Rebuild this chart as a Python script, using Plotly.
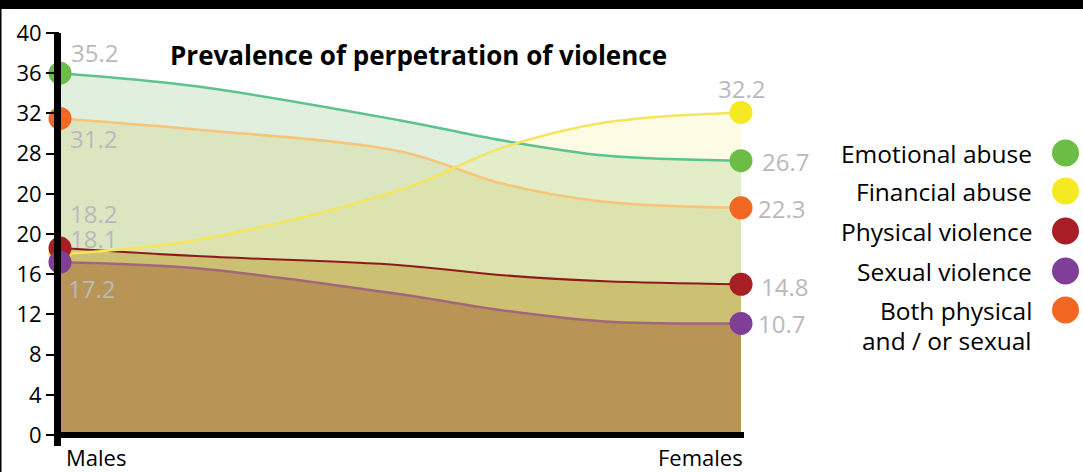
import plotly.graph_objects as go

# ---------------- data ----------------
categories = ["Males", "Females"]
# horizontal positions (0 = Males, 1 = Females) at which the drawn curves were read
x_points = [0.0, 0.2, 0.5, 0.65, 0.8, 1.0]

# heights
emotional = [36.0, 34.7, 31.3, 29.3, 27.8, 27.3]
financial = [18.0, 19.4, 24.4, 28.6, 31.1, 32.1]
both_phys_sex = [31.5, 30.4, 28.2, 25.0, 23.2, 22.6]
physical = [18.6, 17.8, 16.9, 15.9, 15.3, 15.0]
sexual = [17.2, 16.6, 14.0, 12.4, 11.3, 11.1]

# value labels printed next to the end points (Males, Females)
emotional_labels = ["35.2", "26.7"]
financial_labels = ["18.2", "32.2"]
both_labels = ["31.2", "22.3"]
physical_labels = ["18.1", "14.8"]
sexual_labels = ["17.2", "10.7"]

y_tickvals = [0, 4, 8, 12, 16, 20, 24, 28, 32, 36, 40]
y_ticktext = ["0", "4", "8", "12", "16", "20", "20", "28", "32", "36", "40"]

legend_names = ["Emotional abuse", "Financial abuse", "Physical violence",
                "Sexual violence", "Both physical", "and / or sexual"]

# ---------------- styling ----------------
W, H = 1083, 472
L, R, T, B = 60, W - 741, 33, H - 435
PW, PH = W - L - R, H - T - B

def px(xp):
    return (xp - L) / PW

def py(yp):
    return (H - B - yp) / PH

FONT = "Open Sans"
col_marker = {"Emotional abuse": "#6cbd45", "Financial abuse": "#f5e922",
              "Both physical and / or sexual": "#f26722", "Physical violence": "#a81e24",
              "Sexual violence": "#7f3f98"}
col_line = {"Emotional abuse": "#5cc28e", "Financial abuse": "#f3e65c",
            "Both physical and / or sexual": "#f7c578", "Physical violence": "#8e1b1b",
            "Sexual violence": "#a3677a"}
col_fill = {"Emotional abuse": "rgba(105,175,95,0.2)", "Financial abuse": "rgba(242,228,75,0.15)",
            "Both physical and / or sexual": "rgba(194,190,70,0.2)",
            "Physical violence": "rgba(179,139,28,0.4)", "Sexual violence": "rgba(140,50,22,0.3)"}

data = {"Emotional abuse": emotional, "Financial abuse": financial,
        "Both physical and / or sexual": both_phys_sex, "Physical violence": physical,
        "Sexual violence": sexual}
labels = {"Emotional abuse": emotional_labels, "Financial abuse": financial_labels,
          "Both physical and / or sexual": both_labels, "Physical violence": physical_labels,
          "Sexual violence": sexual_labels}

fig = go.Figure()

# fills
for name in ["Emotional abuse", "Financial abuse", "Both physical and / or sexual",
             "Physical violence", "Sexual violence"]:
    fig.add_trace(go.Scatter(x=x_points, y=data[name], mode="lines", fill="tozeroy",
                             fillcolor=col_fill[name],
                             line=dict(width=0, shape="spline", smoothing=1.0),
                             showlegend=False, hoverinfo="skip"))
# lines
for name in ["Emotional abuse", "Both physical and / or sexual", "Sexual violence",
             "Physical violence", "Financial abuse"]:
    fig.add_trace(go.Scatter(x=x_points, y=data[name], mode="lines",
                             line=dict(width=2.5 if name != "Physical violence" else 2,
                                       color=col_line[name], shape="spline", smoothing=1.0),
                             showlegend=False, hoverinfo="skip"))
# end markers
for name in ["Emotional abuse", "Both physical and / or sexual", "Financial abuse",
             "Physical violence", "Sexual violence"]:
    fig.add_trace(go.Scatter(x=[x_points[0], x_points[-1]], y=[data[name][0], data[name][-1]],
                             mode="markers", marker=dict(size=23, color=col_marker[name]),
                             cliponaxis=False, showlegend=False, name=name, hoverinfo="skip"))

# value label offsets (px)
offsets = {
    "Emotional abuse": [(34, 21), (44, -1)],
    "Financial abuse": [(33, 41), (0, 24)],
    "Both physical and / or sexual": [(33, -20), (40, -1)],
    "Physical violence": [(33, 10), (43, -2)],
    "Sexual violence": [(31, -26), (40, 0)],
}
annotations = []
for name, offs in offsets.items():
    for i, (dx, dy) in enumerate(offs):
        xi = 0 if i == 0 else -1
        annotations.append(dict(x=x_points[xi], y=data[name][xi], xref="x", yref="y",
                                text=labels[name][i], showarrow=False, xshift=dx, yshift=dy,
                                font=dict(family=FONT, size=24, color="#b9b9bd")))

# category labels
annotations.append(dict(x=x_points[0], y=0, xref="x", yref="y", text=categories[0],
                        showarrow=False, xanchor="left", yanchor="middle", xshift=4, yshift=-22,
                        font=dict(family=FONT, size=22, color="black")))
annotations.append(dict(x=x_points[-1], y=0, xref="x", yref="y", text=categories[1],
                        showarrow=False, xanchor="right", yanchor="middle", xshift=4, yshift=-22,
                        font=dict(family=FONT, size=22, color="black")))

# title
annotations.append(dict(x=px(418), y=py(55), xref="paper", yref="paper",
                        text="<b>Prevalence of perpetration of violence</b>", showarrow=False,
                        xanchor="center", yanchor="middle",
                        font=dict(family=FONT, size=26, color="black")))

# legend
legend_y = [153, 191, 231, 271, 310, 340]
legend_colors = ["#6cbd45", "#f5e922", "#a81e24", "#7f3f98", "#f26722", None]
shapes = []
for txt, yy, c in zip(legend_names, legend_y, legend_colors):
    annotations.append(dict(x=px(1034), y=py(yy), xref="paper", yref="paper", text=txt,
                            showarrow=False, xanchor="right", yanchor="middle",
                            font=dict(family=FONT, size=24.5, color="black")))
    if c:
        shapes.append(dict(type="circle", xref="paper", yref="paper",
                           x0=px(1052), x1=px(1079), y0=py(yy + 13.5), y1=py(yy - 13.5),
                           fillcolor=c, line=dict(width=0)))

# axes lines & frame
shapes += [
    dict(type="line", xref="paper", yref="paper", x0=px(57.5), x1=px(57.5), y0=py(33), y1=py(446),
         line=dict(color="black", width=7)),
    dict(type="line", xref="paper", yref="paper", x0=px(54), x1=px(744), y0=py(435), y1=py(435),
         line=dict(color="black", width=6)),
    dict(type="rect", xref="paper", yref="paper", x0=px(0), x1=px(W), y0=py(9), y1=py(0),
         fillcolor="black", line=dict(width=0)),
    dict(type="line", xref="paper", yref="paper", x0=px(0.75), x1=px(0.75), y0=py(0), y1=py(H),
         line=dict(color="black", width=1.5)),
]

fig.update_layout(
    template="none",
    width=W, height=H, margin=dict(l=L, r=R, t=T, b=B, pad=0, autoexpand=False),
    paper_bgcolor="white", plot_bgcolor="white", hovermode=False,
    xaxis=dict(range=[0, 1], showgrid=False, zeroline=False, showticklabels=False,
               ticks="", showline=False, fixedrange=True, automargin=False),
    yaxis=dict(range=[0, 40], tickvals=y_tickvals, ticktext=y_ticktext, ticks="outside",
               ticklen=13, tickwidth=2, tickcolor="black", showgrid=False, zeroline=False,
               showline=False, tickfont=dict(family=FONT, size=22, color="black"),
               fixedrange=True, automargin=False),
    annotations=annotations, shapes=shapes, showlegend=False,
)

fig.write_html("out.html", config={"displayModeBar": False},
               post_script="document.body.style.margin='0';document.body.style.overflow='hidden';")
